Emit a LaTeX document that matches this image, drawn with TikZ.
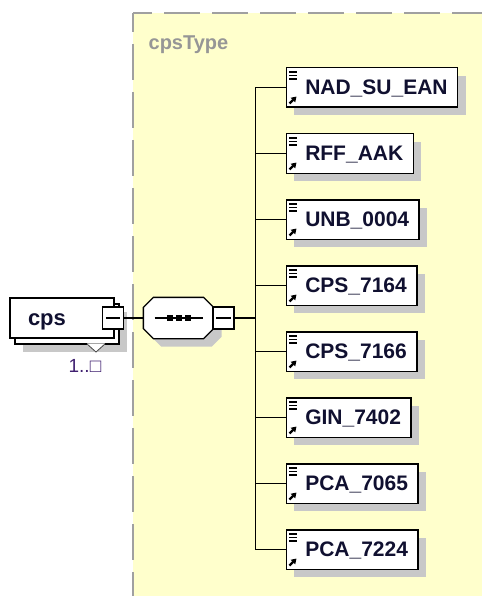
\documentclass[tikz,border=0pt]{standalone}
\usepackage{fontspec}
\setmainfont{Liberation Sans}
\usetikzlibrary{positioning,shadows,arrows.meta}

\definecolor{typefill}{RGB}{255,255,204}
\definecolor{typeline}{RGB}{160,160,160}
\definecolor{typetext}{RGB}{150,150,150}
\definecolor{shade}{RGB}{200,200,200}
\definecolor{nametext}{RGB}{16,16,48}
\definecolor{occurtext}{RGB}{64,32,112}

\begin{document}
\begin{tikzpicture}[x=1pt, y=-1pt, line width=1.3pt, node distance=25pt]

    \tikzstyle{elem}=[draw, fill=white, line width=1.5pt, text=nametext,
        minimum height=39.5pt, inner ysep=0pt, inner xsep=10pt,
        text height=15pt, text depth=1pt,
        font=\fontsize{21}{25}\selectfont\bfseries,
        execute at begin node={\hspace*{9pt}},
        drop shadow={shadow xshift=8pt, shadow yshift=-8pt, fill=shade, opacity=1}]
    \tikzstyle{cpsbox}=[draw, fill=white, line width=1.5pt, minimum width=104pt,
        minimum height=40pt, inner sep=0pt]
    \tikzstyle{minusbox}=[draw, fill=white, line width=1.3pt, minimum width=21pt,
        minimum height=22pt, inner sep=0pt]
    \tikzstyle{seqbox}=[minimum width=69pt, minimum height=40pt, inner sep=0pt]
    \tikzstyle{typedash}=[typeline, line width=2pt, dash pattern=on 36pt off 12pt, dash phase=17pt]

    \useasboundingbox (0,0) rectangle (482,596);

    % complex type area
    \fill[typefill] (133,13) rectangle (482,596);
    \draw[typedash] (133,13) -- (482,13);
    \draw[typedash] (133,13) -- (133,596);
    \node[anchor=base west, inner sep=0pt, text=typetext,
          font=\fontsize{20}{24}\selectfont\bfseries] (type) at (148,50) {cpsType};

    % element cps
    \node[cpsbox, drop shadow={shadow xshift=8pt, shadow yshift=-8pt, fill=shade, opacity=1}]
        (cpsback) at (67,324) {};
    \fill[white] (87,343.3) -- (96,352) -- (105,343.3) -- cycle;
    \draw[line width=0.8pt, gray!60!black] (87,344) -- (96,352) -- (105,344);
    \node[cpsbox, text=nametext, text width=68pt, align=left, text height=16pt, text depth=2pt,
          font=\fontsize{22}{26}\selectfont\bfseries] (cps) at (62,318) {cps};
    \node[anchor=base west, inner sep=0pt, text=occurtext,
          font=\fontsize{19}{23}\selectfont] (occ) at (68,372) {1..□};
    \node[minusbox] (cpsminus) at (113,318) {};
    \draw ([xshift=4pt]cpsminus.west) -- ([xshift=-4pt]cpsminus.east);

    % sequence
    \node[seqbox] (seq) at (178.5,318) {};
    \draw[fill=white, drop shadow={shadow xshift=8pt, shadow yshift=-8pt, fill=shade, opacity=1}]
        ([xshift=10pt]seq.north west) -- ([xshift=-10pt]seq.north east)
        -- ([yshift=-10pt]seq.north east) -- ([yshift=10pt]seq.south east)
        -- ([xshift=-10pt]seq.south east) -- ([xshift=10pt]seq.south west)
        -- ([yshift=10pt]seq.south west) -- ([yshift=-10pt]seq.north west) -- cycle;
    \draw ([xshift=-24pt]seq.center) -- ([xshift=24pt]seq.center);
    \foreach \dx in {-9pt,0pt,9pt}
        \fill ([xshift=\dx]seq.center) +(-3pt,-3pt) rectangle +(3pt,3pt);
    \node[minusbox] (seqminus) at (223.5,318) {};
    \draw ([xshift=4pt]seqminus.west) -- ([xshift=-4pt]seqminus.east);

    \coordinate (trunk) at (255.7,318);

    % children
    \node[elem, anchor=west] (NAD) at (285.5,87.5) {NAD\_SU\_EAN};
    \node[elem, below=of NAD.south west, anchor=north west] (RFF) {RFF\_AAK};
    \node[elem, below=of RFF.south west, anchor=north west] (UNB) {UNB\_0004};
    \node[elem, below=of UNB.south west, anchor=north west] (CPSa) {CPS\_7164};
    \node[elem, below=of CPSa.south west, anchor=north west] (CPSb) {CPS\_7166};
    \node[elem, below=of CPSb.south west, anchor=north west] (GIN) {GIN\_7402};
    \node[elem, below=of GIN.south west, anchor=north west] (PCAa) {PCA\_7065};
    \node[elem, below=of PCAa.south west, anchor=north west] (PCAb) {PCA\_7224};

    % connectors
    \draw (cpsminus.east) -- (seq.west);
    \draw (seqminus.east) -- (trunk);
    \foreach \n in {NAD,RFF,UNB,CPSa,CPSb,GIN,PCAa,PCAb} {
        \draw (trunk) |- (\n.west);
        \foreach \dy in {5pt,8.5pt,12pt}
            \draw[line width=1.3pt] ([xshift=3.5pt,yshift=-\dy]\n.north west) -- +(8pt,0);
        \draw[line width=2.2pt, -{Triangle[length=5pt,width=6pt]}]
            ([xshift=4pt,yshift=4.5pt]\n.south west) -- +(7pt,7pt);
    }
\end{tikzpicture}
\end{document}
